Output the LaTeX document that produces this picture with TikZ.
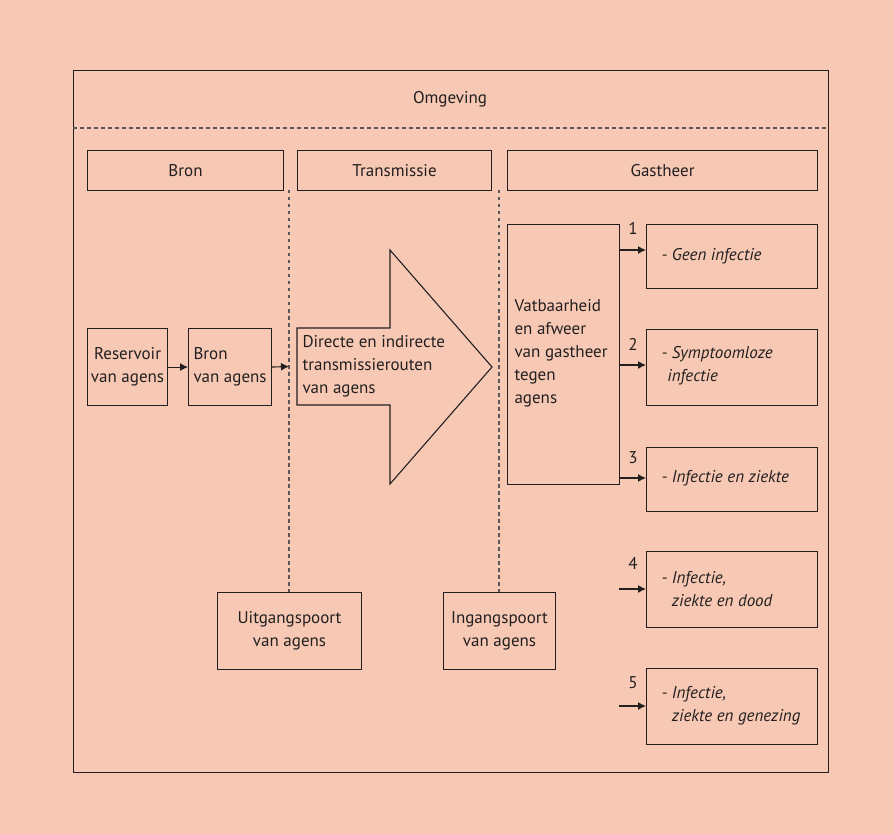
\documentclass[tikz,border=0pt]{standalone}
\usepackage{fontspec}
\setmainfont{PT Sans}
\usetikzlibrary{arrows.meta}
\definecolor{bg}{RGB}{247,201,180}
\definecolor{ln}{RGB}{35,31,32}
\begin{document}
\begin{tikzpicture}[x=1pt,y=-1pt,
  box/.style={draw=ln,line width=1.1pt,anchor=north west,inner sep=0pt},
  lbl/.style={font=\fontsize{17}{23}\selectfont,text=ln},
  outtxt/.style={font=\fontsize{17}{23}\selectfont\itshape,text=ln,align=left,anchor=west},
  num/.style={font=\fontsize{17}{18}\selectfont,text=ln},
  dline/.style={draw=ln!75,line width=1.1pt,dash pattern=on 3.5pt off 3.5pt},
  arr/.style={draw=ln,line width=1.1pt,-{Latex[length=8pt,width=8pt]}}]
\fill[bg] (0,0) rectangle (894,834);
\useasboundingbox (0,0) rectangle (894,834);
% frame
\node[box,minimum width=755,minimum height=702] (frame) at (73,70) {};
\node[lbl] (omg) at (450,99) {Omgeving};
\coordinate (dl) at (73,128);
\coordinate (dr) at (828,128);
\draw[dline] (dl) -- (dr);
% headers
\node[box,minimum width=196,minimum height=40] (hbron) at (87,150) {};
\node[lbl] at (hbron.center) {Bron};
\node[box,minimum width=194,minimum height=40] (htrans) at (297,150) {};
\node[lbl] at (htrans.center) {Transmissie};
\node[box,minimum width=310,minimum height=40] (hgast) at (507,150) {};
\node[lbl] at (hgast.center) {Gastheer};
% dashed verticals
\coordinate (v1t) at (289,190);
\coordinate (v2t) at (499,190);
% bottom boxes
\node[box,minimum width=144,minimum height=77] (uit) at (217,592) {};
\node[lbl,align=center] at (uit.center) {Uitgangspoort\\van agens};
\node[box,minimum width=112,minimum height=77] (ing) at (443,592) {};
\node[lbl,align=center] at (ing.center) {Ingangspoort\\van agens};
\draw[dline] (v1t) -- (v1t |- uit.north);
\draw[dline] (v2t) -- (v2t |- ing.north);
% source boxes
\node[box,minimum width=80,minimum height=77] (res) at (87,328) {};
\node[lbl,align=center] at (res.center) {Reservoir\\van agens};
\node[box,minimum width=83,minimum height=77] (bron) at (188,328) {};
\node[lbl,align=left,anchor=west] at ([xshift=2pt]bron.west) {Bron\\van agens};
\draw[arr] (res.east) -- (bron.west);
\coordinate (bronarr) at (289,366.5);
\draw[arr] (bron.east) -- (bronarr);
% big arrow
\draw[ln,line width=1.1pt,fill=bg] (297,328) -- (390,328) -- (390,250) -- (492,367) -- (390,484) -- (390,405) -- (297,405) -- cycle;
\node[lbl,align=left,anchor=west] (trtxt) at (299,366) {Directe en indirecte\\transmissierouten\\van agens};
% host box
\node[box,minimum width=112,minimum height=260] (host) at (507,224) {};
\node[lbl,align=left,anchor=west] at ([xshift=4pt,yshift=1pt]host.west) {Vatbaarheid\\en afweer\\van gastheer\\tegen\\agens};
% outcomes
\node[box,minimum width=171,minimum height=64] (o1) at (646,224) {};
\node[box,minimum width=171,minimum height=76] (o2) at (646,329) {};
\node[box,minimum width=171,minimum height=64] (o3) at (646,447) {};
\node[box,minimum width=171,minimum height=76] (o4) at (646,551) {};
\node[box,minimum width=171,minimum height=76] (o5) at (646,668) {};
\node[outtxt] at (658,256) {- Geen infectie};
\node[outtxt] at (658,366) {- Symptoomloze\\\phantom{-}infectie};
\node[outtxt] at (658,478) {- Infectie en ziekte};
\node[outtxt] at (658,589) {- Infectie,\\\phantom{- }ziekte en dood};
\node[outtxt] at (658,706) {- Infectie,\\\phantom{- }ziekte en genezing};
% outcome arrows
\coordinate (a1) at (619,250);
\coordinate (a2) at (619,365);
\coordinate (a3) at (619,478);
\coordinate (a4) at (619,589);
\coordinate (a5) at (619,706);
\draw[arr] (a1) -- (a1 -| o1.west);
\draw[arr] (a2) -- (a2 -| o2.west);
\draw[arr] (a3) -- (a3 -| o3.west);
\draw[arr] (a4) -- (a4 -| o4.west);
\draw[arr] (a5) -- (a5 -| o5.west);
\node[num] (n1) at (633,228) {1};
\node[num] (n2) at (633,344) {2};
\node[num] (n3) at (633,458) {3};
\node[num] (n4) at (633,563) {4};
\node[num] (n5) at (633,683) {5};
\end{tikzpicture}
\end{document}
